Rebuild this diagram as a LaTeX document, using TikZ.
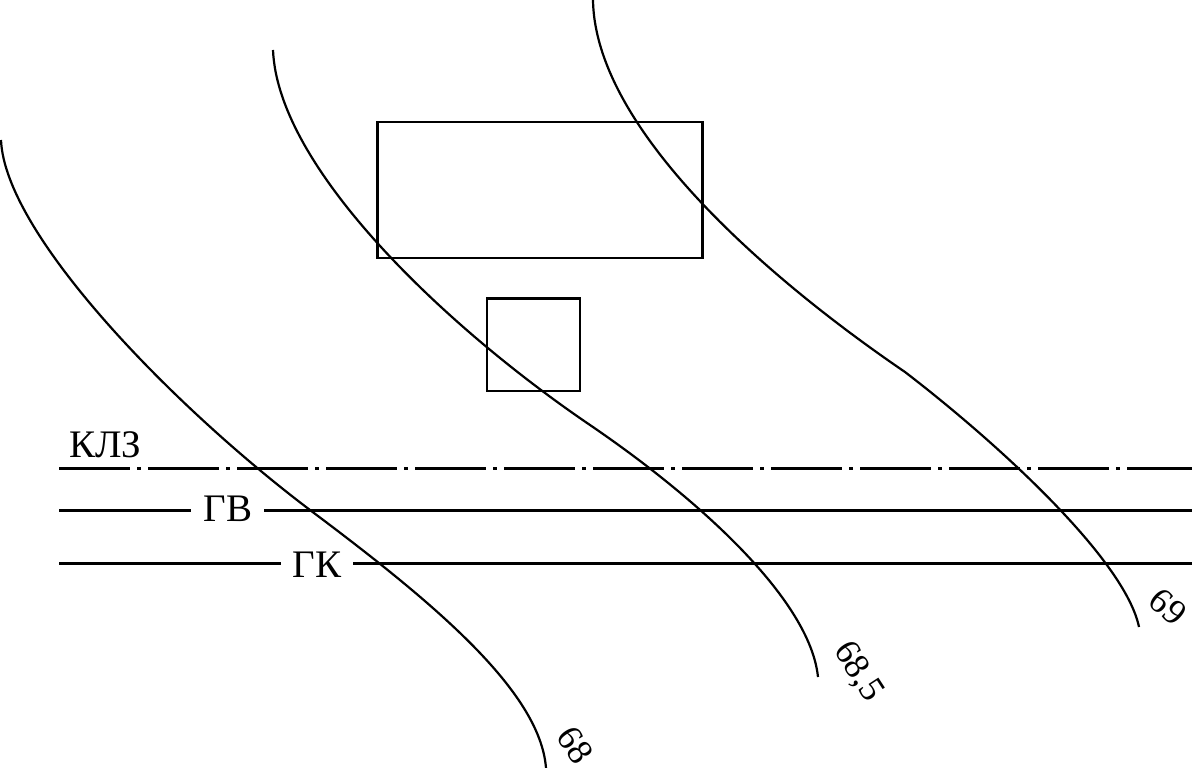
\documentclass[tikz,border=0pt]{standalone}
\usepackage{fontspec}
\setmainfont{Liberation Serif}
\begin{document}
\begin{tikzpicture}[x=1pt,y=-1pt,line cap=butt,
	contour/.style={line width=2.2pt},
	building/.style={line width=2.6pt},
	axisline/.style={line width=2.8pt},
	gaplabel/.style={inner sep=0, outer sep=0, font=\fontsize{39pt}{39pt}\selectfont},
	marklabel/.style={inner sep=0, outer sep=0, font=\fontsize{36pt}{36pt}\selectfont}]
	\useasboundingbox (0,0) rectangle (1192,768);
	% contours
	\draw [contour] (1,140) .. controls (5,235) and (175,408) .. (310,510) .. controls (430,600) and (540,690) .. (546,768);
	\draw [contour] (273,50) .. controls (278,170) and (450,330) .. (590,425) .. controls (700,500) and (810,600) .. (818,677);
	\draw [contour] (593,0) .. controls (595,130) and (770,280) .. (905,372) .. controls (1000,445) and (1125,560) .. (1139,627);
	% buildings
	\draw [building] (377.5,122) rectangle (702.5,258);
	\draw [building] (487,298.5) rectangle (580,391);
	% lines
	\draw [axisline, dash pattern=on 71pt off 7pt on 4pt off 7pt] (59,468.5) -- (1192,468.5);
	\node[gaplabel, anchor=base west] (klz) at (69,457) {КЛЗ};
	\node[gaplabel, anchor=base] (gv) at (228,521) {ГВ};
	\coordinate (gvL) at (59,510.5);
	\coordinate (gvLend) at (191,510.5);
	\coordinate (gvRstart) at (264,510.5);
	\coordinate (gvR) at (1192,510.5);
	\draw [axisline] (gvL) -- (gvLend);
	\draw [axisline] (gvRstart) -- (gvR);
	\node[gaplabel, anchor=base] (gk) at (317,577) {ГК};
	\coordinate (gkL) at (59,563.5);
	\coordinate (gkLend) at (281,563.5);
	\coordinate (gkRstart) at (353,563.5);
	\coordinate (gkR) at (1192,563.5);
	\draw [axisline] (gkL) -- (gkLend);
	\draw [axisline] (gkRstart) -- (gkR);
	% marks
	\node[marklabel, rotate=-57] (m68) at (575,745) {68};
	\node[marklabel, rotate=-57] (m685) at (858,672) {68,5};
	\node[marklabel, rotate=-42] (m69) at (1168,607) {69};
\end{tikzpicture}
\end{document}
